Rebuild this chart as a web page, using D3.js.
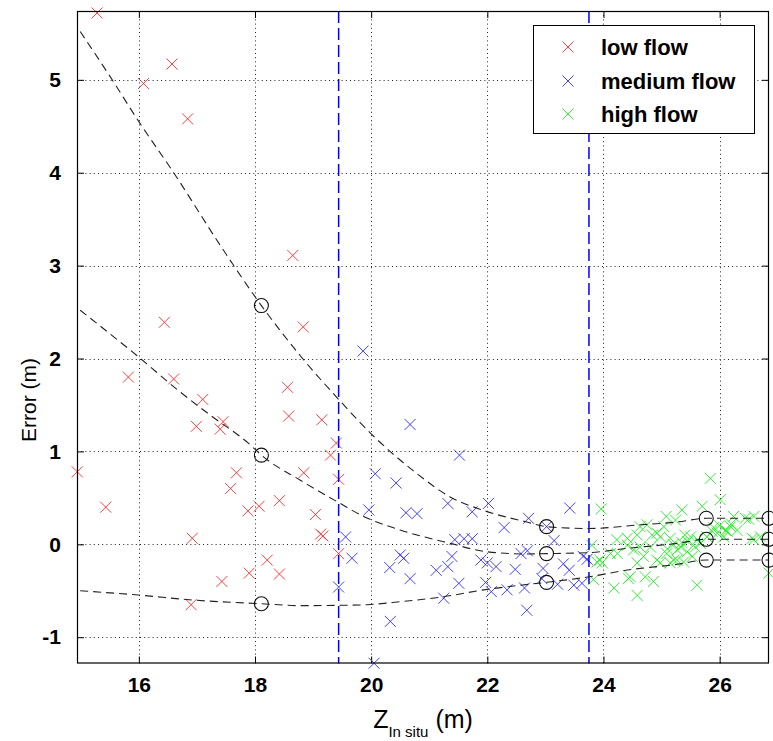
<!DOCTYPE html>
<html>
<head>
<meta charset="utf-8">
<script src="https://cdn.jsdelivr.net/npm/d3@7"></script>
<style>
  html, body { margin: 0; padding: 0; background: #fff; }
  svg { display: block; }
  text { font-family: "Liberation Sans", Arial, Helvetica, sans-serif; fill: #000; }
</style>
</head>
<body>
<svg id="chart" width="773" height="741"></svg>
<script>
// Axis ticks
const xTicks = [16, 18, 20, 22, 24, 26];
const yTicks = [-1, 0, 1, 2, 3, 4, 5];

// Error vs in-situ elevation, one array per flow regime: [Z, error]
const lowFlow = [
  [15.28, 5.72], [16.08, 4.96], [16.57, 5.17], [16.84, 4.58], [18.65, 3.11],
  [16.44, 2.39], [18.83, 2.34], [15.82, 1.80], [16.60, 1.78], [17.10, 1.56],
  [18.56, 1.69], [16.99, 1.27], [17.45, 1.32], [17.40, 1.24], [18.58, 1.38],
  [19.15, 1.34], [19.40, 1.09], [19.30, 0.96], [14.94, 0.78], [15.43, 0.40],
  [17.68, 0.77], [17.58, 0.60], [18.84, 0.77], [19.44, 0.70], [17.88, 0.36],
  [18.07, 0.41], [18.42, 0.47], [19.04, 0.32], [19.13, 0.11], [19.17, 0.09],
  [16.92, 0.065], [19.44, -0.10], [18.21, -0.17], [17.90, -0.31], [18.42, -0.32],
  [17.43, -0.40], [16.90, -0.65]
];
const mediumFlow = [
  [19.86, 2.08], [20.67, 1.29], [21.52, 0.96], [20.07, 0.76], [20.43, 0.66],
  [19.96, 0.37], [20.60, 0.34], [20.79, 0.33], [21.32, 0.44], [21.74, 0.35],
  [22.02, 0.44], [22.71, 0.28], [23.42, 0.39], [22.29, 0.18], [23.02, 0.19],
  [23.15, 0.04], [19.56, 0.08], [19.67, -0.15], [21.44, 0.05], [21.60, 0.06],
  [21.74, 0.06], [20.50, -0.115], [20.56, -0.15], [20.32, -0.25], [20.67, -0.37],
  [21.39, -0.13], [21.32, -0.24], [21.12, -0.28], [21.51, -0.42], [21.89, -0.17],
  [22.00, -0.20], [22.15, -0.24], [21.97, -0.41], [22.07, -0.51], [22.34, -0.49],
  [22.48, -0.27], [22.58, -0.10], [22.69, -0.07], [22.64, -0.47], [22.68, -0.71],
  [22.96, -0.26], [22.94, -0.37], [23.31, -0.21], [23.41, -0.28], [23.21, -0.43],
  [23.49, -0.44], [23.63, -0.42], [23.65, -0.13], [23.72, -0.16], [20.33, -0.83],
  [19.44, -0.46], [20.05, -1.28], [21.25, -0.58]
];
const highFlow = [
  [25.84, 0.71], [26.01, 0.48], [23.96, 0.38], [25.70, 0.41], [25.35, 0.37],
  [25.08, 0.30], [25.24, 0.26], [24.75, 0.21], [26.24, 0.30], [26.44, 0.28],
  [26.59, 0.30], [24.58, 0.10], [24.41, 0.065], [23.80, -0.01], [23.89, -0.19],
  [23.98, -0.20], [24.98, 0.08], [25.15, 0.065], [25.50, 0.08], [26.10, 0.15],
  [26.19, 0.19], [25.96, 0.12], [25.78, 0.08], [24.24, -0.10], [24.52, -0.06],
  [24.69, -0.13], [24.92, -0.17], [25.09, -0.10], [25.27, -0.06], [25.44, -0.08],
  [25.58, -0.03], [25.21, -0.17], [25.38, -0.19], [24.98, -0.20], [24.58, -0.20],
  [24.43, -0.37], [24.72, -0.35], [24.18, -0.47], [24.86, -0.40], [24.58, -0.55],
  [25.61, -0.44], [26.85, -0.31], [23.83, -0.38], [24.12, -0.10], [24.23, 0.05],
  [24.63, -0.03], [24.81, -0.03], [25.04, 0.19], [24.84, 0.10], [25.33, -0.03],
  [25.53, -0.13], [25.67, 0.01], [26.07, 0.08], [26.30, 0.15], [26.56, 0.065],
  [26.70, 0.08], [25.87, 0.14], [23.94, -0.17], [24.46, -0.35], [24.41, -0.01],
  [24.63, 0.19], [24.92, 0.12], [25.15, -0.20], [26.50, 0.27], [26.59, 0.05],
  [26.13, 0.14], [25.27, -0.17], [25.45, 0.03], [25.62, 0.05], [25.40, 0.10],
  [25.10, -0.05], [25.20, 0.00], [25.35, 0.02], [25.90, 0.18], [26.00, 0.20],
  [26.20, 0.22]
];

// Regime boundaries (vertical dashed lines)
const flowBreaks = [19.44, 23.75];

// Fitted error envelopes: upper, central and lower
const upperFit = [
  [14.99, 5.52], [15.5, 5.04], [16.0, 4.55], [16.6, 4.0], [17.4, 3.22],
  [18.11, 2.57], [18.78, 2.03], [19.44, 1.56], [20.0, 1.19], [20.79, 0.76],
  [21.36, 0.51], [21.91, 0.37], [22.68, 0.24], [23.02, 0.19], [23.75, 0.17],
  [24.64, 0.21], [25.27, 0.24], [25.77, 0.28], [26.85, 0.28]
];
const centralFit = [
  [14.99, 2.52], [15.97, 2.03], [16.71, 1.64], [17.23, 1.39], [17.92, 1.07],
  [18.11, 0.96], [18.78, 0.69], [19.44, 0.45], [19.87, 0.30], [20.5, 0.154],
  [21.36, 0.01], [21.99, -0.08], [22.68, -0.104], [23.02, -0.10], [23.75, -0.09],
  [24.41, -0.043], [25.27, 0.01], [25.77, 0.054], [26.85, 0.054]
];
const lowerFit = [
  [14.99, -0.50], [15.99, -0.546], [16.94, -0.60], [18.11, -0.64], [18.78, -0.66],
  [19.44, -0.657], [19.93, -0.65], [20.5, -0.618], [21.25, -0.564], [21.94, -0.49],
  [22.45, -0.449], [23.02, -0.409], [23.75, -0.35], [24.41, -0.277], [25.27, -0.215],
  [25.77, -0.169], [26.85, -0.169]
];

// Fit values marked at representative elevations
const markX = [18.11, 23.02, 25.77, 26.85];
const markUpper = [2.57, 0.19, 0.28, 0.28];
const markCentral = [0.96, -0.10, 0.054, 0.054];
const markLower = [-0.64, -0.41, -0.17, -0.17];

const legendLabels = ["low flow", "medium flow", "high flow"];
const colors = ["#ff2020", "#2020ff", "#10f010"];

// ---- layout ----
const svg = d3.select("#chart");
const plot = { left: 77, right: 769, top: 11, bottom: 663.5 };

const x = d3.scaleLinear().domain([14.935, 26.85]).range([plot.left, plot.right]);
const y = d3.scaleLinear().domain([-1.283, 5.741]).range([plot.bottom, plot.top]);

// grid
const grid = svg.append("g").attr("stroke", "#222").attr("stroke-width", 1)
  .attr("stroke-dasharray", "1,3.2");
grid.selectAll("line.gx").data(xTicks).join("line")
  .attr("x1", d => Math.round(x(d)) + 0.5).attr("x2", d => Math.round(x(d)) + 0.5)
  .attr("y1", plot.top).attr("y2", plot.bottom);
grid.selectAll("line.gy").data(yTicks).join("line")
  .attr("y1", d => Math.round(y(d)) + 0.5).attr("y2", d => Math.round(y(d)) + 0.5)
  .attr("x1", plot.left).attr("x2", plot.right);

// axes with inward ticks on all four sides
const tickLen = 7;
const fmt = d => String(d);
const xAxisB = d3.axisBottom(x).tickValues(xTicks).tickSizeInner(-tickLen).tickSizeOuter(0).tickPadding(14).tickFormat(fmt);
const xAxisT = d3.axisTop(x).tickValues(xTicks).tickSizeInner(-tickLen).tickSizeOuter(0).tickFormat("");
const yAxisL = d3.axisLeft(y).tickValues(yTicks).tickSizeInner(-tickLen).tickSizeOuter(0).tickPadding(16).tickFormat(fmt);
const yAxisR = d3.axisRight(y).tickValues(yTicks).tickSizeInner(-tickLen).tickSizeOuter(0).tickFormat("");

function styleAxis(g) {
  g.select(".domain").remove();
  g.selectAll(".tick line").attr("stroke", "#000").attr("stroke-width", 1);
  g.selectAll(".tick text")
    .style("font-family", "'Liberation Sans', Arial, sans-serif")
    .style("font-size", "21px").style("font-weight", "bold").attr("fill", "#000");
}
svg.append("g").attr("transform", `translate(0,${plot.bottom})`).call(xAxisB).call(styleAxis);
svg.append("g").attr("transform", `translate(0,${plot.top})`).call(xAxisT).call(styleAxis);
svg.append("g").attr("transform", `translate(${plot.left},0)`).call(yAxisL).call(styleAxis);
svg.append("g").attr("transform", `translate(${plot.right},0)`).call(yAxisR).call(styleAxis);

// scatter markers ('x')
const ms = 5.5;
function crossPath(cx, cy) {
  return `M${cx - ms},${cy - ms}L${cx + ms},${cy + ms}M${cx - ms},${cy + ms}L${cx + ms},${cy - ms}`;
}
function drawCrosses(data, color) {
  const g = svg.append("g").attr("stroke", color).attr("stroke-width", 1)
    .attr("stroke-opacity", 0.85).attr("fill", "none");
  g.selectAll("path").data(data).join("path")
    .attr("d", d => crossPath(x(d[0]), y(d[1])));
}
drawCrosses(lowFlow, colors[0]);
drawCrosses(mediumFlow, colors[1]);
drawCrosses(highFlow, colors[2]);

// regime boundaries
svg.append("g").selectAll("line").data(flowBreaks).join("line")
  .attr("x1", d => x(d)).attr("x2", d => x(d))
  .attr("y1", plot.top).attr("y2", plot.bottom)
  .attr("stroke", "#0000ff").attr("stroke-width", 1.5)
  .attr("stroke-dasharray", "12,5");

// fitted curves
const line = d3.line().x(d => x(d[0])).y(d => y(d[1])).curve(d3.curveMonotoneX);
svg.append("g").selectAll("path").data([upperFit, centralFit, lowerFit]).join("path")
  .attr("d", line).attr("fill", "none")
  .attr("stroke", "#222").attr("stroke-width", 1.1)
  .attr("stroke-dasharray", "8,5");

// circle marks on the fits
const marks = [];
[markUpper, markCentral, markLower].forEach(ys => ys.forEach((v, i) => marks.push([markX[i], v])));
svg.append("g").selectAll("circle").data(marks).join("circle")
  .attr("cx", d => x(d[0])).attr("cy", d => y(d[1])).attr("r", 7)
  .attr("fill", "none").attr("stroke", "#111").attr("stroke-width", 1.1);

// axes box
svg.append("rect")
  .attr("x", plot.left + 0.5).attr("y", plot.top + 0.5)
  .attr("width", plot.right - plot.left - 1).attr("height", plot.bottom - plot.top - 1)
  .attr("fill", "none").attr("stroke", "#000").attr("stroke-width", 1.2);

// axis labels
svg.append("text")
  .attr("transform", "translate(36,400) rotate(-90)")
  .attr("text-anchor", "middle")
  .style("font-size", "21px")
  .text("Error (m)");

const xl = svg.append("text")
  .attr("x", (plot.left + plot.right) / 2).attr("y", 728)
  .attr("text-anchor", "middle")
  .style("font-size", "25px");
xl.append("tspan").text("Z");
xl.append("tspan").attr("dy", 9).style("font-size", "15px").text("In situ");
xl.append("tspan").attr("dy", -9).text(" (m)");

// legend
const legend = svg.append("g");
legend.append("rect")
  .attr("x", 533.5).attr("y", 25.5).attr("width", 221).attr("height", 108)
  .attr("fill", "#fff").attr("stroke", "#000").attr("stroke-width", 1);
const rows = [47, 81, 114];
legendLabels.forEach((lab, i) => {
  const cy = rows[i];
  legend.append("path")
    .attr("d", crossPath(568, cy))
    .attr("stroke", colors[i]).attr("stroke-width", 1).attr("stroke-opacity", 0.85).attr("fill", "none");
  legend.append("text")
    .attr("x", 601).attr("y", cy + 8)
    .style("font-size", "22px").style("font-weight", "bold")
    .text(lab);
});
</script>
</body>
</html>
